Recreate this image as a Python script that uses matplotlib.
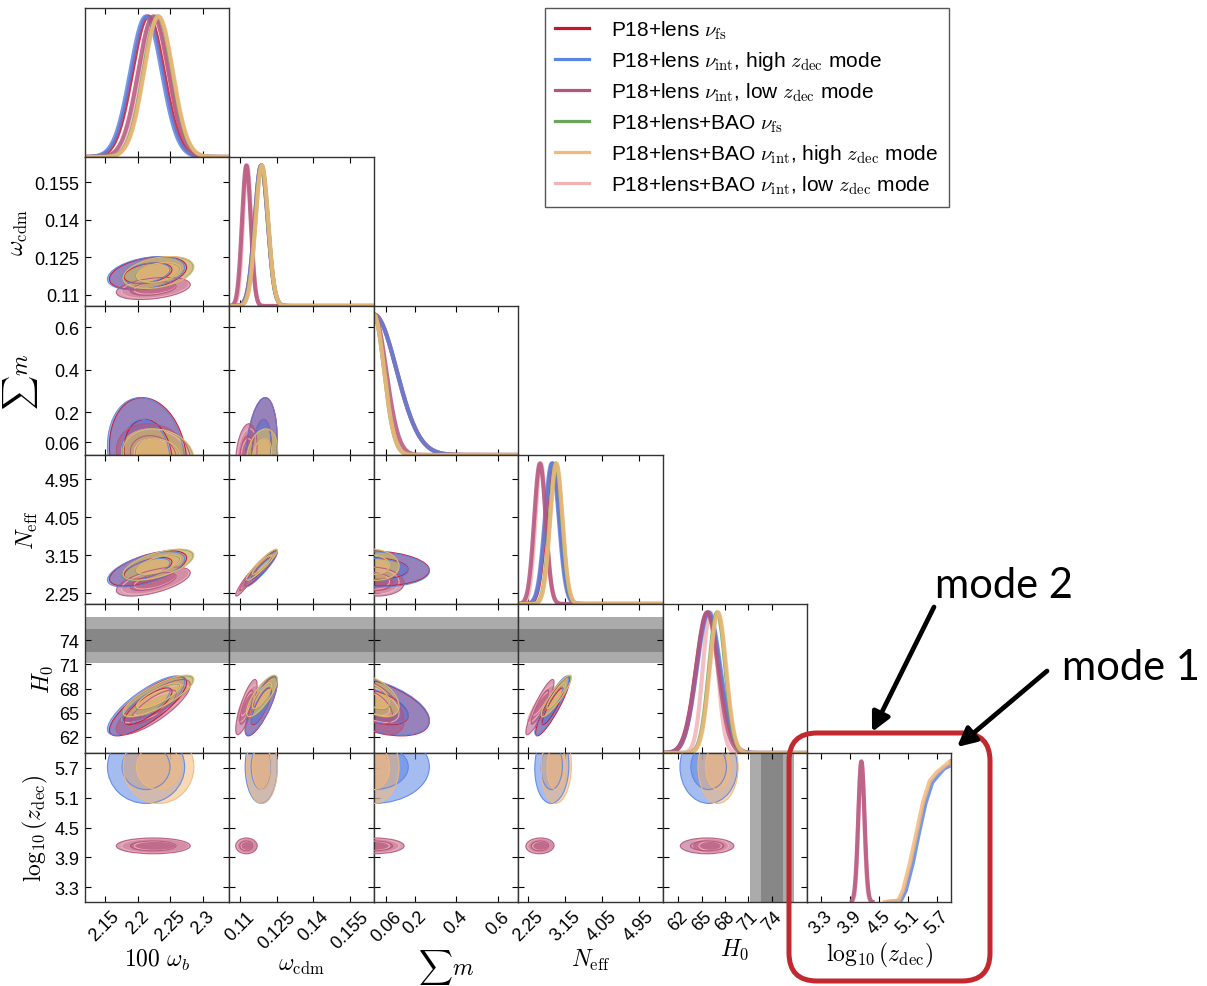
import numpy as np
import matplotlib
matplotlib.use("Agg")
import matplotlib.pyplot as plt
from matplotlib.patches import Ellipse, FancyBboxPatch, FancyArrowPatch
from matplotlib.lines import Line2D

plt.rcParams['font.family'] = ['Liberation Sans', 'DejaVu Sans']
plt.rcParams['mathtext.fontset'] = 'cm'

nan = np.nan

# runs
run_labels = [
    r"P18+lens $\nu_{\rm fs}$",
    r"P18+lens $\nu_{\rm int}$, high $z_{\rm dec}$ mode",
    r"P18+lens $\nu_{\rm int}$, low $z_{\rm dec}$ mode",
    r"P18+lens+BAO $\nu_{\rm fs}$",
    r"P18+lens+BAO $\nu_{\rm int}$, high $z_{\rm dec}$ mode",
    r"P18+lens+BAO $\nu_{\rm int}$, low $z_{\rm dec}$ mode",
]
run_colors = ['#c8142a', '#5b86e5', '#b4557e', '#6aa55a', '#f5b87a', '#f2b3b6']
draw_order = [5, 0, 1, 2, 3, 4]

# parameters
par_labels = [r"$100~\omega_b$", r"$\omega_{\rm cdm}$", r"$\sum m$",
              r"$N_{\rm eff}$", r"$H_0$", r"$\log_{10}(z_{\rm dec})$"]
par_lims = [(2.12, 2.34), (0.1055, 0.165), (0.0, 0.7),
            (2.0, 5.52), (60.0, 78.5), (3.0, 6.0)]
par_ticks = [[2.15, 2.2, 2.25, 2.3], [0.11, 0.125, 0.14, 0.155],
             [0.06, 0.2, 0.4, 0.6], [2.25, 3.15, 4.05, 4.95],
             [62, 65, 68, 71, 74], [3.3, 3.9, 4.5, 5.1, 5.7]]
tick_text = [["2.15", "2.2", "2.25", "2.3"], ["0.11", "0.125", "0.14", "0.155"],
             ["0.06", "0.2", "0.4", "0.6"], ["2.25", "3.15", "4.05", "4.95"],
             ["62", "65", "68", "71", "74"], ["3.3", "3.9", "4.5", "5.1", "5.7"]]

# posterior means and widths, one row per run
means = [
    [2.216, 0.1186, 0.0, 2.84, 65.8, nan],
    [2.213, 0.1186, 0.0, 2.82, 65.9, 5.72],
    [2.224, 0.1125, 0.0, 2.53, 65.7, 4.13],
    [2.231, 0.1188, 0.0, 2.92, 67.0, nan],
    [2.232, 0.1189, 0.0, 2.93, 67.1, 5.72],
    [2.227, 0.1128, 0.0, 2.55, 66.1, 4.13],
]
sigmas = [
    [0.024, 0.0027, 0.11, 0.17, 1.50, nan],
    [0.024, 0.0027, 0.11, 0.17, 1.50, 0.30],
    [0.023, 0.0018, 0.06, 0.14, 1.40, 0.065],
    [0.022, 0.0026, 0.05, 0.15, 1.05, nan],
    [0.022, 0.0026, 0.05, 0.15, 1.05, 0.30],
    [0.021, 0.0017, 0.05, 0.13, 0.95, 0.06],
]
corr = [
    [1.0, 0.35, -0.15, 0.60, 0.80, 0.0],
    [0.35, 1.0, 0.25, 0.93, 0.80, 0.0],
    [-0.15, 0.25, 1.0, -0.10, -0.50, 0.0],
    [0.60, 0.93, -0.10, 1.0, 0.90, 0.05],
    [0.80, 0.80, -0.50, 0.90, 1.0, 0.0],
    [0.0, 0.0, 0.0, 0.05, 0.0, 1.0],
]

# 1D log10(z_dec) profiles of the high mode (piled up at the prior edge)
zhi_blue_x = [4.70, 4.95, 5.05, 5.20, 5.33, 5.46, 5.60, 5.72, 5.85, 5.97, 6.00]
zhi_blue_p = [0.00, 0.01, 0.08, 0.28, 0.50, 0.70, 0.85, 0.90, 0.95, 0.97, 1.00]
zhi_orange_x = [4.62, 4.90, 5.00, 5.14, 5.28, 5.41, 5.55, 5.69, 5.83, 5.97, 6.00]
zhi_orange_p = [0.00, 0.01, 0.09, 0.28, 0.50, 0.71, 0.86, 0.92, 0.96, 1.00, 0.98]
zdec_high = {1: (zhi_blue_x, zhi_blue_p), 4: (zhi_orange_x, zhi_orange_p)}

# SH0ES H0
h0_local, h0_local_err = 74.0, 1.42

W, H = 1207, 987
fig = plt.figure(figsize=(W / 100, H / 100), dpi=100)
x0, y0, cw, ch = 85, 9, 144.4, 149.0
n = 6

CL = [2.45, 1.52]  # 95% and 68% radii for 2D gaussians


def style_axes(ax, i, j):
    ax.tick_params(direction='in', top=True, right=True, length=4, width=0.8,
                   labelsize=13, pad=4)
    for s in ax.spines.values():
        s.set_linewidth(1.0)
        s.set_color('#333333')
    ax.set_xlim(par_lims[j])
    ax.set_xticks(par_ticks[j])
    if i == n - 1:
        ax.set_xticklabels(tick_text[j], rotation=45)
        ax.set_xlabel(par_labels[j], fontsize=17, labelpad=2)
    else:
        ax.set_xticklabels([])


axes = {}
for i in range(n):
    for j in range(i + 1):
        rect = [(x0 + j * cw) / W, 1 - (y0 + (i + 1) * ch) / H, cw / W, ch / H]
        ax = fig.add_axes(rect)
        axes[i, j] = ax
        style_axes(ax, i, j)
        if i == j:
            ax.set_ylim(0, 1.06)
            ax.set_yticks([])
            for d in draw_order:
                mu, sg = means[d][i], sigmas[d][i]
                if np.isnan(mu):
                    continue
                if i == 5 and d in zdec_high:
                    xs, ps = zdec_high[d]
                elif i == 5:
                    xs = np.linspace(mu - 3 * sg, mu + 3.5 * sg, 60)
                    ps = np.exp(-0.5 * ((xs - mu) / sg) ** 2)
                else:
                    xs = np.linspace(*par_lims[i], 300)
                    ps = np.exp(-0.5 * ((xs - mu) / sg) ** 2)
                ax.plot(xs, ps, color=run_colors[d], lw=3.0, alpha=0.85)
            continue

        ax.set_ylim(par_lims[i])
        ax.set_yticks(par_ticks[i])
        if j == 0:
            ax.set_yticklabels(tick_text[i])
            ax.set_ylabel(par_labels[i], fontsize=17, labelpad=3)
        else:
            ax.set_yticklabels([])

        # local H0 bands
        if i == 4:
            ax.axhspan(h0_local - 2 * h0_local_err, h0_local + 2 * h0_local_err,
                       color='#ababab', lw=0, zorder=0)
            ax.axhspan(h0_local - h0_local_err, h0_local + h0_local_err,
                       color='#878787', lw=0, zorder=0)
        if j == 4:
            ax.axvspan(h0_local - 2 * h0_local_err, h0_local + 2 * h0_local_err,
                       color='#ababab', lw=0, zorder=0)
            ax.axvspan(h0_local - h0_local_err, h0_local + h0_local_err,
                       color='#878787', lw=0, zorder=0)

        for d in draw_order:
            mx, my = means[d][j], means[d][i]
            sx, sy = sigmas[d][j], sigmas[d][i]
            if np.isnan(mx) or np.isnan(my):
                continue
            rho = corr[i][j]
            cov = np.array([[sx ** 2, rho * sx * sy], [rho * sx * sy, sy ** 2]])
            vals, vecs = np.linalg.eigh(cov)
            ang = np.degrees(np.arctan2(vecs[1, 1], vecs[0, 1]))
            for r in CL:
                e = Ellipse((mx, my), 2 * r * np.sqrt(vals[1]), 2 * r * np.sqrt(vals[0]),
                            angle=ang, facecolor=run_colors[d], alpha=0.55,
                            edgecolor='none', zorder=2)
                ax.add_patch(e)
                e2 = Ellipse((mx, my), 2 * r * np.sqrt(vals[1]), 2 * r * np.sqrt(vals[0]),
                             angle=ang, facecolor='none', edgecolor=run_colors[d],
                             lw=0.8, alpha=0.9, zorder=3)
                ax.add_patch(e2)

# legend
handles = [Line2D([], [], color=c, lw=2.3) for c in run_colors]
fig.legend(handles, run_labels, loc='upper left',
           bbox_to_anchor=(545 / W, 1 - 9 / H), fontsize=15, frameon=True,
           fancybox=False, edgecolor='#555555', framealpha=1,
           handlelength=1.63, handletextpad=1.06, labelspacing=0.4,
           borderpad=0.5, borderaxespad=0)

# mode annotations
dpi_tr = fig.dpi_scale_trans
box = FancyBboxPatch((7.89, 0.05), 2.01, 2.48,
                     boxstyle="round,pad=0,rounding_size=0.28",
                     transform=dpi_tr, facecolor='none', edgecolor='#c3282e',
                     lw=3.6, zorder=10)
fig.add_artist(box)
for (xa, ya), (xb, yb) in [((934, 608), (872, 733)), ((1047, 672), (957, 748))]:
    arr = FancyArrowPatch((xa / 100, (H - ya) / 100), (xb / 100, (H - yb) / 100),
                          transform=dpi_tr, arrowstyle='-|>', mutation_scale=28,
                          color='black', lw=3.4, shrinkA=0, shrinkB=0, zorder=10)
    fig.add_artist(arr)
fig.text(935 / W, 1 - 598 / H, "mode 2", fontsize=30, family='Lato', va='baseline')
fig.text(1062 / W, 1 - 680 / H, "mode 1", fontsize=30, family='Lato', va='baseline')

fig.savefig("out.png", dpi=100)
